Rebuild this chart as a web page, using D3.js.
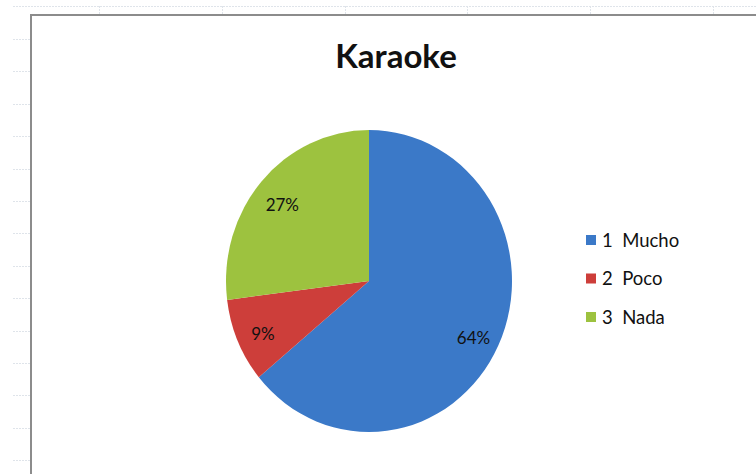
<!DOCTYPE html>
<html><head><meta charset="utf-8">
<script src="https://cdn.jsdelivr.net/npm/d3@7"></script>
<style>html,body{margin:0;padding:0;background:#fff;}svg{display:block;}</style>
</head><body>
<svg id="chart" width="756" height="474"></svg>
<script>
const title = "Karaoke";
const categories = ["1  Mucho", "2  Poco", "3  Nada"];
const values = [64, 9, 27];
const colors = ["#3b79c8", "#cd3e3a", "#9dc23f"];

const svg = d3.select("#chart");
const W = 756, H = 474;

// spreadsheet grid background
const grid = svg.append("g").attr("stroke", "#dfe4ea").attr("stroke-width", 1).attr("stroke-dasharray", "2,1");
grid.append("line").attr("x1", 13).attr("x2", W).attr("y1", 6.5).attr("y2", 6.5);
d3.range(14).forEach(k => {
  const y = Math.round(39 + k * 32.4) + 0.5;
  grid.append("line").attr("x1", 13).attr("x2", 30).attr("y1", y).attr("y2", y);
});
[99, 222, 345, 467, 590, 713].forEach(x => {
  grid.append("line").attr("x1", x + 0.5).attr("x2", x + 0.5).attr("y1", 6).attr("y2", 14).attr("stroke-dasharray", null);
});

// chart area
svg.append("rect").attr("x", 31).attr("y", 15).attr("width", W).attr("height", H)
  .attr("fill", "#fff");
svg.append("path").attr("d", `M31,${H}V15H${W}`).attr("fill", "none")
  .attr("stroke", "#8c8c8c").attr("stroke-width", 2);

svg.append("text").attr("x", 396).attr("y", 68).attr("text-anchor", "middle")
  .attr("font-family", "Lato, 'Open Sans', sans-serif").attr("font-weight", "bold")
  .attr("font-size", 33).attr("fill", "#111").text(title);

const cx = 369, cy = 281, R = 151, sx = 143 / 151;
const pie = d3.pie().sort(null).value(d => d);
const arcs = pie(values);
const arc = d3.arc().innerRadius(0).outerRadius(R);
const labelArc = d3.arc().innerRadius(122).outerRadius(122);

const g = svg.append("g").attr("transform", `translate(${cx},${cy}) scale(${sx},1)`);
g.selectAll("path").data(arcs).join("path")
  .attr("d", arc).attr("fill", (d, i) => colors[i])
  .attr("stroke", "none");

const total = d3.sum(values);
svg.append("g").selectAll("text").data(arcs).join("text")
  .attr("x", d => cx + labelArc.centroid(d)[0] * sx)
  .attr("y", d => cy + labelArc.centroid(d)[1] + 5)
  .attr("dy", "0.35em").attr("text-anchor", "middle")
  .attr("font-family", "Lato, 'Open Sans', sans-serif").attr("font-size", 17)
  .attr("fill", "#111")
  .text(d => Math.round(d.data / total * 100) + "%");

const legend = svg.append("g");
categories.forEach((c, i) => {
  const y = 240 + i * 38.5;
  legend.append("rect").attr("x", 586).attr("y", y - 5).attr("width", 10).attr("height", 10).attr("fill", colors[i]);
  legend.append("text").attr("x", 602).attr("y", y).attr("dy", "0.36em")
    .attr("font-family", "Lato, 'Open Sans', sans-serif").attr("font-size", 18.5)
    .attr("fill", "#111").attr("xml:space", "preserve").style("white-space", "pre").text(c);
});
</script>
</body></html>
